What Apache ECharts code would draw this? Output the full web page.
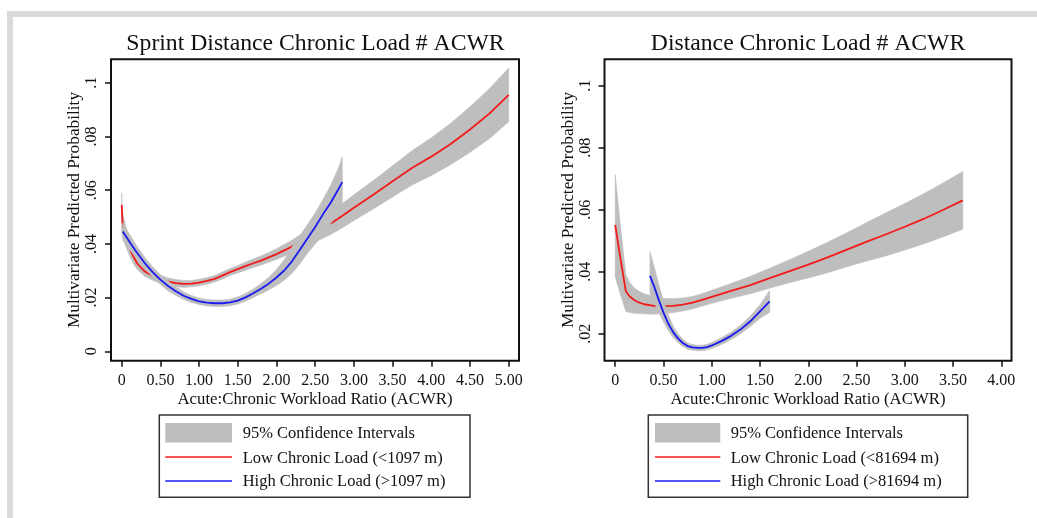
<!DOCTYPE html>
<html><head><meta charset="utf-8">
<script src="https://cdn.jsdelivr.net/npm/echarts@6/dist/echarts.min.js"></script>
<style>html,body{margin:0;padding:0;background:#fff}#c{width:1037px;height:518px}</style>
</head><body><div id="c"></div>
<script>
// ---------- texts ----------
const leftTitle = 'Sprint Distance Chronic Load # ACWR';
const rightTitle = 'Distance Chronic Load # ACWR';
const xAxisTitle = 'Acute:Chronic Workload Ratio (ACWR)';
const yAxisTitle = 'Multivariate Predicted Probability';
const legendCI = '95% Confidence Intervals';
const leftLegendLow = 'Low Chronic Load (<1097 m)';
const leftLegendHigh = 'High Chronic Load (>1097 m)';
const rightLegendLow = 'Low Chronic Load (<81694 m)';
const rightLegendHigh = 'High Chronic Load (>81694 m)';

// ---------- tick labels ----------
const leftXTicks = [0, 0.5, 1, 1.5, 2, 2.5, 3, 3.5, 4, 4.5, 5];
const leftXTickLabels = ['0', '0.50', '1.00', '1.50', '2.00', '2.50', '3.00', '3.50', '4.00', '4.50', '5.00'];
const leftYTicks = [0, 0.02, 0.04, 0.06, 0.08, 0.1];
const leftYTickLabels = ['0', '.02', '.04', '.06', '.08', '.1'];
const rightXTicks = [0, 0.5, 1, 1.5, 2, 2.5, 3, 3.5, 4];
const rightXTickLabels = ['0', '0.50', '1.00', '1.50', '2.00', '2.50', '3.00', '3.50', '4.00'];
const rightYTicks = [0.02, 0.04, 0.06, 0.08, 0.1];
const rightYTickLabels = ['.02', '.04', '.06', '.08', '.1'];

// ---------- left panel: Sprint distance ----------
const leftLowX  = [0,0.01,0.05,0.13,0.2,0.3,0.4,0.5,0.6,0.7,0.8,0.9,1.0,1.1,1.2,1.3,1.4,1.5,1.6,1.7,1.8,1.9,2.0,2.1,2.2,2.3,2.4,2.5,2.6,2.7,2.8,3.0,3.25,3.5,3.75,4.0,4.25,4.5,4.75,5.0];
const leftLowY  = [0.0545,0.0480,0.0430,0.0365,0.0327,0.0297,0.0281,0.0268,0.0259,0.0254,0.0251,0.0252,0.0256,0.0262,0.0270,0.0282,0.0295,0.0306,0.0317,0.0328,0.0338,0.0350,0.0362,0.0376,0.0390,0.0406,0.0423,0.0440,0.0458,0.0476,0.0495,0.0535,0.0583,0.0633,0.0683,0.0725,0.0772,0.0826,0.0885,0.0955];
const leftLowHi = [0.0590,0.0522,0.0468,0.0393,0.0349,0.0315,0.0297,0.0283,0.0273,0.0267,0.0264,0.0264,0.0268,0.0274,0.0282,0.0295,0.0308,0.0320,0.0332,0.0344,0.0355,0.0368,0.0382,0.0398,0.0414,0.0433,0.0453,0.0473,0.0495,0.0517,0.0539,0.0583,0.0636,0.0691,0.0747,0.0795,0.0849,0.0911,0.0978,0.1055];
const leftLowLo = [0.0440,0.0430,0.0392,0.0337,0.0305,0.0279,0.0265,0.0253,0.0245,0.0241,0.0238,0.0240,0.0244,0.0250,0.0258,0.0269,0.0282,0.0292,0.0302,0.0312,0.0321,0.0332,0.0342,0.0354,0.0366,0.0379,0.0393,0.0407,0.0421,0.0435,0.0451,0.0487,0.0530,0.0575,0.0619,0.0655,0.0695,0.0741,0.0792,0.0855];

const leftHighX  = [0.015,0.1,0.2,0.3,0.4,0.5,0.6,0.7,0.8,0.9,1.0,1.1,1.2,1.3,1.4,1.5,1.6,1.7,1.8,1.9,2.0,2.1,2.2,2.3,2.4,2.5,2.6,2.7,2.8,2.85];
const leftHighY  = [0.0446,0.0408,0.0366,0.0328,0.0295,0.0267,0.0243,0.0224,0.0207,0.0195,0.0186,0.0181,0.0179,0.0179,0.0182,0.0189,0.0201,0.0216,0.0233,0.0252,0.0275,0.0301,0.0335,0.0377,0.0420,0.0463,0.0510,0.0553,0.0604,0.0630];
const leftHighHi = [0.0478,0.0436,0.0390,0.0349,0.0314,0.0285,0.0261,0.0240,0.0221,0.0208,0.0198,0.0193,0.0191,0.0191,0.0194,0.0202,0.0215,0.0232,0.0252,0.0275,0.0305,0.0340,0.0388,0.0430,0.0472,0.0515,0.0565,0.0618,0.0683,0.0725];
const leftHighLo = [0.0414,0.0380,0.0342,0.0307,0.0276,0.0249,0.0225,0.0208,0.0193,0.0182,0.0174,0.0169,0.0167,0.0167,0.0170,0.0176,0.0187,0.0200,0.0214,0.0229,0.0245,0.0265,0.0290,0.0325,0.0365,0.0400,0.0435,0.0475,0.0520,0.0545];

// ---------- right panel: Distance ----------
const rightLowX  = [0.0,0.05,0.11,0.15,0.2,0.25,0.3,0.4,0.5,0.6,0.7,0.8,0.9,1.0,1.2,1.4,1.6,1.8,2.0,2.2,2.4,2.6,2.8,3.0,3.2,3.4,3.6];
const rightLowY  = [0.0551,0.0450,0.0337,0.0320,0.0308,0.0300,0.0295,0.0290,0.0289,0.0290,0.0294,0.0300,0.0309,0.0319,0.0338,0.0357,0.0379,0.0401,0.0423,0.0446,0.0471,0.0496,0.0520,0.0545,0.0571,0.0600,0.0630];
const rightLowHi = [0.0713,0.0560,0.0390,0.0365,0.0347,0.0336,0.0329,0.0319,0.0314,0.0313,0.0315,0.0320,0.0329,0.0340,0.0362,0.0385,0.0411,0.0438,0.0466,0.0495,0.0526,0.0558,0.0589,0.0620,0.0652,0.0687,0.0723];
const rightLowLo = [0.0384,0.0330,0.0272,0.0268,0.0266,0.0265,0.0264,0.0263,0.0265,0.0268,0.0273,0.0280,0.0289,0.0298,0.0314,0.0329,0.0347,0.0364,0.0380,0.0397,0.0416,0.0434,0.0451,0.0470,0.0490,0.0513,0.0537];

const rightHighX  = [0.36,0.40,0.45,0.50,0.55,0.60,0.65,0.70,0.75,0.80,0.85,0.90,0.95,1.00,1.10,1.20,1.30,1.40,1.50,1.60];
const rightHighY  = [0.0387,0.0355,0.0310,0.0268,0.0232,0.0205,0.0185,0.0170,0.0160,0.0156,0.0154,0.0154,0.0157,0.0162,0.0176,0.0193,0.0214,0.0240,0.0272,0.0304];
const rightHighHi = [0.0465,0.0420,0.0360,0.0306,0.0260,0.0225,0.0200,0.0182,0.0170,0.0165,0.0163,0.0163,0.0166,0.0172,0.0187,0.0205,0.0228,0.0257,0.0294,0.0339];
const rightHighLo = [0.0327,0.0305,0.0270,0.0238,0.0210,0.0188,0.0172,0.0159,0.0150,0.0147,0.0145,0.0145,0.0148,0.0152,0.0165,0.0181,0.0200,0.0223,0.0250,0.0269];

// ---------- styling ----------
const FONT = 'Liberation Serif';
const INK = '#111111';
const CI_COLOR = '#bebebe';
const RED = '#f21a1a';
const BLUE = '#1a1af2';

function zip(xs, ys) { return xs.map((x, i) => [x, ys[i]]); }
function labelFor(ticks, labels) {
  return v => { const i = ticks.findIndex(t => Math.abs(t - v) < 1e-9); return i >= 0 ? labels[i] : ''; };
}
function band(idx, xs, lo, hi, z) {
  return {
    type: 'custom', xAxisIndex: idx, yAxisIndex: idx, z: z, silent: true, clip: true,
    data: [[xs[0], lo[0]]],
    renderItem: (params, api) => {
      const pts = [];
      for (let i = 0; i < xs.length; i++) pts.push(api.coord([xs[i], hi[i]]));
      for (let i = xs.length - 1; i >= 0; i--) pts.push(api.coord([xs[i], lo[i]]));
      return { type: 'polygon', shape: { points: pts }, style: { fill: CI_COLOR, stroke: CI_COLOR, lineWidth: 0.6 } };
    }
  };
}
function line(idx, xs, ys, color, z) {
  return {
    type: 'line', xAxisIndex: idx, yAxisIndex: idx, z: z, silent: true,
    data: zip(xs, ys), symbol: 'none', smooth: false,
    lineStyle: { color: color, width: 1.8 }
  };
}
function xAxis(idx, min, max, ticks, labels) {
  return {
    type: 'value', gridIndex: idx, min: min, max: max,
    splitLine: { show: false }, axisLine: { show: false, onZero: false },
    axisTick: { show: true, customValues: ticks, length: 6, lineStyle: { color: INK, width: 1.5 } },
    axisLabel: { customValues: ticks, formatter: labelFor(ticks, labels), fontFamily: FONT, fontSize: 16, color: INK, margin: 12.5 },
    name: xAxisTitle, nameLocation: 'middle', nameGap: 30, nameMoveOverlap: false,
    nameTextStyle: { fontFamily: FONT, fontSize: 16.8, color: INK }
  };
}
function yAxis(idx, min, max, ticks, labels) {
  return {
    type: 'value', gridIndex: idx, min: min, max: max,
    splitLine: { show: false }, axisLine: { show: false, onZero: false },
    axisTick: { show: true, customValues: ticks, length: 6, lineStyle: { color: INK, width: 1.5 } },
    axisLabel: { customValues: ticks, formatter: labelFor(ticks, labels), rotate: 90, fontFamily: FONT, fontSize: 16, color: INK, margin: 11 },
    name: yAxisTitle, nameLocation: 'middle', nameGap: 28, nameRotate: 90,
    nameTextStyle: { fontFamily: FONT, fontSize: 17.3, color: INK }
  };
}
function legendBox(box, sw, textX, low, high) {
  const t = (y, s) => ({ type: 'text', x: textX, y: y, style: { text: s, font: '16.5px "' + FONT + '"', fill: INK, textVerticalAlign: 'middle' } });
  return [
    { type: 'rect', shape: { x: box[0], y: box[1], width: box[2], height: box[3] }, style: { fill: '#fff', stroke: '#333', lineWidth: 1.5 } },
    { type: 'rect', shape: { x: sw[0], y: 423, width: sw[1] - sw[0], height: 19.5 }, style: { fill: CI_COLOR } },
    { type: 'line', shape: { x1: sw[0], y1: 457, x2: sw[1], y2: 457 }, style: { stroke: RED, lineWidth: 1.5 } },
    { type: 'line', shape: { x1: sw[0], y1: 481, x2: sw[1], y2: 481 }, style: { stroke: BLUE, lineWidth: 1.5 } },
    t(434, legendCI), t(458.5, low), t(482, high)
  ];
}

const chart = echarts.init(document.getElementById('c'), null, { renderer: 'canvas' });
chart.setOption({
  animation: false,
  backgroundColor: '#fff',
  grid: [
    { left: 111, top: 59.3, width: 408, height: 301.4, show: true, borderColor: INK, borderWidth: 2 },
    { left: 604.5, top: 59.3, width: 407, height: 301.4, show: true, borderColor: INK, borderWidth: 2 }
  ],
  xAxis: [
    xAxis(0, -0.138, 5.133, leftXTicks, leftXTickLabels),
    xAxis(1, -0.111, 4.105, rightXTicks, rightXTickLabels)
  ],
  yAxis: [
    yAxis(0, -0.0035, 0.10875, leftYTicks, leftYTickLabels),
    yAxis(1, 0.01129, 0.10852, rightYTicks, rightYTickLabels)
  ],
  series: [
    band(0, leftLowX, leftLowLo, leftLowHi, 1),
    line(0, leftLowX, leftLowY, RED, 2),
    band(0, leftHighX, leftHighLo, leftHighHi, 3),
    line(0, leftHighX, leftHighY, BLUE, 4),
    band(1, rightLowX, rightLowLo, rightLowHi, 1),
    line(1, rightLowX, rightLowY, RED, 2),
    band(1, rightHighX, rightHighLo, rightHighHi, 3),
    line(1, rightHighX, rightHighY, BLUE, 4)
  ],
  graphic: [
    { type: 'rect', shape: { x: 7, y: 11, width: 1030, height: 6 }, style: { fill: '#dadada' } },
    { type: 'rect', shape: { x: 7, y: 11, width: 6, height: 507 }, style: { fill: '#dadada' } },
    { type: 'text', x: 315.5, y: 43.5, style: { text: leftTitle, font: '23.7px "' + FONT + '"', fill: INK, textAlign: 'center', textVerticalAlign: 'middle' } },
    { type: 'text', x: 808, y: 43.5, style: { text: rightTitle, font: '23.7px "' + FONT + '"', fill: INK, textAlign: 'center', textVerticalAlign: 'middle' } },
    ...legendBox([159.3, 415, 310.7, 82.3], [165.3, 232], 242.7, leftLegendLow, leftLegendHigh),
    ...legendBox([648.3, 415, 319.4, 82.3], [655, 720.3], 730.7, rightLegendLow, rightLegendHigh)
  ]
});
</script></body></html>
